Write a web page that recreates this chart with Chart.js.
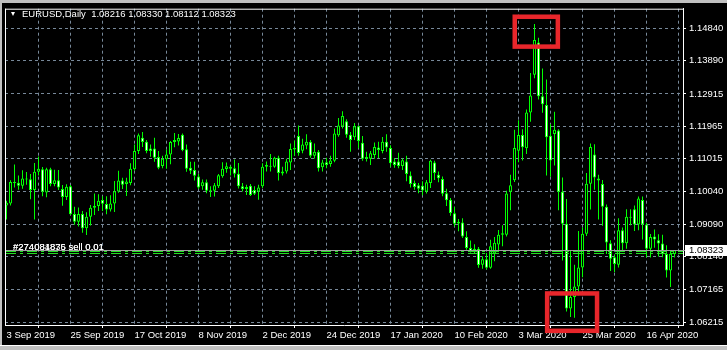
<!DOCTYPE html>
<html>
<head>
<meta charset="utf-8">
<script src="https://cdn.jsdelivr.net/npm/chart.js@4.4.1/dist/chart.umd.min.js"></script>
<style>
  html, body { margin: 0; padding: 0; background: #000; }
  #wrap { position: relative; width: 727px; height: 350px; overflow: hidden; background: #000; }
  canvas { display: block; }
  #tri { position: absolute; left: 11px; top: 12px; width: 0; height: 0;
         border-left: 2.5px solid transparent; border-right: 2.5px solid transparent; border-top: 4px solid #fff; }
  #head { position: absolute; left: 22px; top: 9px; color: #fff; white-space: pre;
          font: 9.5px "Liberation Sans", Arial, sans-serif; line-height: 9.5px; }
</style>
</head>
<body>
<div id="wrap">
  <canvas id="myChart" width="727" height="350"></canvas>
  <div id="tri"></div>
  <div id="head">EURUSD,Daily  1.08216 1.08330 1.08112 1.08323</div>
</div>
<script>
var FONT = '"Liberation Sans", Arial, sans-serif';

// barras diarias EURUSD (fechas de cada vela)
var dates = [
  '2019-09-03','2019-09-04','2019-09-05','2019-09-06','2019-09-09','2019-09-10','2019-09-11','2019-09-12','2019-09-13','2019-09-16',
  '2019-09-17','2019-09-18','2019-09-19','2019-09-20','2019-09-23','2019-09-24','2019-09-25','2019-09-26','2019-09-27','2019-09-30',
  '2019-10-01','2019-10-02','2019-10-03','2019-10-04','2019-10-07','2019-10-08','2019-10-09','2019-10-10','2019-10-11','2019-10-14',
  '2019-10-15','2019-10-16','2019-10-17','2019-10-18','2019-10-21','2019-10-22','2019-10-23','2019-10-24','2019-10-25','2019-10-28',
  '2019-10-29','2019-10-30','2019-10-31','2019-11-01','2019-11-04','2019-11-05','2019-11-06','2019-11-07','2019-11-08','2019-11-11',
  '2019-11-12','2019-11-13','2019-11-14','2019-11-15','2019-11-18','2019-11-19','2019-11-20','2019-11-21','2019-11-22','2019-11-25',
  '2019-11-26','2019-11-27','2019-11-28','2019-11-29','2019-12-02','2019-12-03','2019-12-04','2019-12-05','2019-12-06','2019-12-09',
  '2019-12-10','2019-12-11','2019-12-12','2019-12-13','2019-12-16','2019-12-17','2019-12-18','2019-12-19','2019-12-20','2019-12-23',
  '2019-12-24','2019-12-26','2019-12-27','2019-12-30','2019-12-31','2020-01-02','2020-01-03','2020-01-06','2020-01-07','2020-01-08',
  '2020-01-09','2020-01-10','2020-01-13','2020-01-14','2020-01-15','2020-01-16','2020-01-17','2020-01-20','2020-01-21','2020-01-22',
  '2020-01-23','2020-01-24','2020-01-27','2020-01-28','2020-01-29','2020-01-30','2020-01-31','2020-02-03','2020-02-04','2020-02-05',
  '2020-02-06','2020-02-07','2020-02-10','2020-02-11','2020-02-12','2020-02-13','2020-02-14','2020-02-17','2020-02-18','2020-02-19',
  '2020-02-20','2020-02-21','2020-02-24','2020-02-25','2020-02-26','2020-02-27','2020-02-28','2020-03-02','2020-03-03','2020-03-04',
  '2020-03-05','2020-03-06','2020-03-09','2020-03-10','2020-03-11','2020-03-12','2020-03-13','2020-03-16','2020-03-17','2020-03-18',
  '2020-03-19','2020-03-20','2020-03-23','2020-03-24','2020-03-25','2020-03-26','2020-03-27','2020-03-30','2020-03-31','2020-04-01',
  '2020-04-02','2020-04-03','2020-04-06','2020-04-07','2020-04-08','2020-04-09','2020-04-10','2020-04-13','2020-04-14','2020-04-15',
  '2020-04-16','2020-04-17','2020-04-20','2020-04-21','2020-04-22','2020-04-23','2020-04-24','2020-04-27'
];

var open = [
  1.0964,1.0970,1.1033,1.1031,1.1022,1.1043,1.1041,1.1009,1.1063,1.1070,
  1.1002,1.1070,1.1027,1.1038,1.1012,1.0989,1.1020,1.0939,1.0916,1.0939,
  1.0897,1.0931,1.0957,1.0962,1.0980,1.0968,1.0952,1.0970,1.1005,1.1037,
  1.1027,1.1030,1.1070,1.1124,1.1163,1.1151,1.1131,1.1131,1.1106,1.1080,
  1.1100,1.1114,1.1150,1.1152,1.1172,1.1129,1.1075,1.1068,1.1049,1.1020,
  1.1032,1.1006,1.1007,1.1020,1.1050,1.1071,1.1078,1.1073,1.1057,1.1020,
  1.1012,1.1022,1.1009,1.1005,1.1020,1.1078,1.1078,1.1078,1.1104,1.1058,
  1.1064,1.1090,1.1128,1.1168,1.1125,1.1140,1.1151,1.1110,1.1122,1.1076,
  1.1091,1.1086,1.1095,1.1170,1.1196,1.1211,1.1172,1.1164,1.1197,1.1148,
  1.1101,1.1101,1.1112,1.1134,1.1124,1.1151,1.1133,1.1093,1.1093,1.1080,
  1.1093,1.1052,1.1030,1.1023,1.1022,1.1005,1.1030,1.1090,1.1054,1.1042,
  1.1000,1.0981,1.0941,1.0911,1.0914,1.0871,1.0839,1.0831,1.0837,1.0790,
  1.0806,1.0781,1.0823,1.0849,1.0878,1.0878,1.1004,1.1038,1.1125,1.1171,
  1.1132,1.1237,1.1348,1.1443,1.1285,1.1259,1.1169,1.1174,1.1184,1.1004,
  1.0910,1.0661,1.0695,1.0726,1.0782,1.0881,1.1028,1.1114,1.1043,1.1027,
  1.0960,1.0853,1.0812,1.0790,1.0891,1.0853,1.0931,1.0953,1.0908,1.0980,
  1.0908,1.0837,1.0873,1.0862,1.0852,1.0821,1.0773,1.08216
];
var high = [
  1.0978,1.1038,1.1084,1.1052,1.1067,1.1062,1.1056,1.1089,1.1108,1.1077,
  1.1075,1.1075,1.1069,1.1068,1.1024,1.1026,1.1024,1.0960,1.0958,1.0948,
  1.0944,1.0965,1.0999,1.0997,1.0991,1.0991,1.0994,1.1036,1.1066,1.1045,
  1.1045,1.1088,1.1143,1.1175,1.1180,1.1156,1.1143,1.1163,1.1124,1.1110,
  1.1128,1.1153,1.1177,1.1174,1.1175,1.1143,1.1092,1.1092,1.1056,1.1040,
  1.1040,1.1020,1.1030,1.1056,1.1091,1.1090,1.1081,1.1099,1.1089,1.1030,
  1.1025,1.1027,1.1020,1.1025,1.1088,1.1093,1.1115,1.1107,1.1110,1.1078,
  1.1101,1.1146,1.1155,1.1199,1.1160,1.1173,1.1156,1.1146,1.1127,1.1098,
  1.1104,1.1110,1.1190,1.1221,1.1241,1.1217,1.1180,1.1206,1.1199,1.1168,
  1.1122,1.1124,1.1149,1.1151,1.1165,1.1173,1.1141,1.1103,1.1119,1.1102,
  1.1110,1.1064,1.1037,1.1030,1.1035,1.1039,1.1098,1.1095,1.1064,1.1049,
  1.1013,1.0986,1.0960,1.0924,1.0926,1.0888,1.0861,1.0850,1.0842,1.0815,
  1.0824,1.0863,1.0871,1.0892,1.0906,1.1007,1.1054,1.1186,1.1214,1.1188,
  1.1246,1.1353,1.1497,1.1457,1.1366,1.1334,1.1203,1.1239,1.1188,1.1046,
  1.0983,1.0831,1.0790,1.0889,1.0899,1.1059,1.1146,1.1144,1.1054,1.1039,
  1.0967,1.0862,1.0820,1.0926,1.0899,1.0953,1.0953,1.0964,1.0990,1.0990,
  1.0913,1.0880,1.0893,1.0879,1.0878,1.0847,1.0831,1.08330
];
var low = [
  1.0923,1.0964,1.1017,1.1010,1.1013,1.1025,1.0982,1.0923,1.1052,1.0991,
  1.0988,1.1020,1.1020,1.1009,1.0963,1.0980,1.0936,1.0907,1.0902,1.0884,
  1.0877,1.0905,1.0936,1.0948,1.0948,1.0938,1.0946,1.0945,1.1001,1.1012,
  1.0992,1.1023,1.1066,1.1115,1.1136,1.1117,1.1107,1.1092,1.1070,1.1073,
  1.1072,1.1085,1.1135,1.1140,1.1123,1.1063,1.1056,1.1037,1.1012,1.1010,
  1.1000,1.0989,1.0990,1.1015,1.1045,1.1060,1.1052,1.1046,1.1014,1.1005,
  1.0995,1.0992,1.0995,1.0981,1.1015,1.1064,1.1064,1.1075,1.1037,1.1052,
  1.1058,1.1068,1.1110,1.1110,1.1117,1.1129,1.1104,1.1102,1.1064,1.1064,
  1.1073,1.1078,1.1091,1.1166,1.1190,1.1163,1.1122,1.1156,1.1132,1.1095,
  1.1093,1.1083,1.1101,1.1103,1.1117,1.1122,1.1078,1.1075,1.1073,1.1068,
  1.1035,1.1017,1.1010,1.1000,1.0994,1.0999,1.1015,1.1039,1.1032,1.0991,
  1.0962,1.0934,1.0902,1.0888,1.0868,1.0834,1.0826,1.0822,1.0781,1.0778,
  1.0776,1.0778,1.0800,1.0832,1.0844,1.0873,1.0950,1.1033,1.1091,1.1096,
  1.1115,1.1210,1.1338,1.1275,1.1236,1.1052,1.1048,1.1081,1.0950,1.0802,
  1.0652,1.0636,1.0634,1.0700,1.0753,1.0874,1.0952,1.1010,1.0923,1.0904,
  1.0821,1.0771,1.0768,1.0782,1.0831,1.0837,1.0906,1.0889,1.0891,1.0864,
  1.0812,1.0811,1.0840,1.0814,1.0812,1.0752,1.0724,1.08112
];
var close = [
  1.0972,1.1033,1.1030,1.1022,1.1043,1.1040,1.1009,1.1063,1.1072,1.1004,
  1.1070,1.1027,1.1038,1.1017,1.0989,1.1019,1.0938,1.0916,1.0939,1.0897,
  1.0931,1.0957,1.0962,1.0978,1.0969,1.0952,1.0970,1.1006,1.1037,1.1025,
  1.1034,1.1072,1.1124,1.1170,1.1150,1.1124,1.1124,1.1104,1.1075,1.1101,
  1.1114,1.1150,1.1156,1.1162,1.1126,1.1072,1.1066,1.1051,1.1017,1.1032,
  1.1007,1.1008,1.1023,1.1053,1.1072,1.1079,1.1072,1.1057,1.1020,1.1012,
  1.1018,1.0995,1.0998,1.1017,1.1078,1.1083,1.1080,1.1104,1.1059,1.1064,
  1.1093,1.1130,1.1133,1.1118,1.1143,1.1151,1.1110,1.1122,1.1073,1.1090,
  1.1083,1.1096,1.1175,1.1199,1.1227,1.1172,1.1156,1.1197,1.1153,1.1101,
  1.1106,1.1117,1.1136,1.1127,1.1151,1.1134,1.1088,1.1083,1.1080,1.1097,
  1.1056,1.1027,1.1018,1.1013,1.1008,1.1032,1.1095,1.1059,1.1044,1.0998,
  1.0979,1.0942,1.0910,1.0916,1.0873,1.0839,1.0830,1.0837,1.0789,1.0806,
  1.0781,1.0844,1.0854,1.0878,1.0882,1.0999,1.1023,1.1133,1.1171,1.1135,
  1.1237,1.1287,1.1450,1.1285,1.1261,1.1164,1.1096,1.1186,1.1004,1.0910,
  1.0661,1.0695,1.0726,1.0782,1.0881,1.1028,1.1136,1.1046,1.1037,1.0960,
  1.0855,1.0807,1.0792,1.0891,1.0853,1.0931,1.0928,1.0908,1.0984,1.0908,
  1.0837,1.0871,1.0864,1.0852,1.0822,1.0773,1.0822,1.08323
];

// etiquetas de los ejes
var tickBars = [0, 16, 32, 48, 64, 80, 96, 112, 128, 144, 160];
var tickLabels = ['3 Sep 2019', '25 Sep 2019', '17 Oct 2019', '8 Nov 2019', '2 Dec 2019', '24 Dec 2019',
                  '17 Jan 2020', '10 Feb 2020', '3 Mar 2020', '25 Mar 2020', '16 Apr 2020'];
var priceTicks = [1.06215, 1.07165, 1.08140, 1.09090, 1.10040, 1.11015, 1.11965, 1.12915, 1.13890, 1.14840];

// linea bid y ordenes abiertas
var bidPrice = 1.08323;
var orderPrices = [1.0829, 1.0823];
var orderLabels = ['#274081835 sell 0.01', '#274084876 sell 0.01'];

// recuadros rojos: maximo y minimo (barra inicial, barra final, precio alto, precio bajo)
var boxFromBar = [126.5, 134.6];
var boxToBar = [138.4, 148.2];
var boxTopPrice = [1.1525, 1.0712];
var boxBottomPrice = [1.1424, 1.0589];

var wicks = dates.map(function(d, i) { return { x: i, y: [low[i], high[i]] }; });
var bodies = dates.map(function(d, i) { return { x: i, y: [open[i], close[i]] }; });
var bodyFill = dates.map(function(d, i) { return close[i] >= open[i] ? '#000000' : '#ffffff'; });

// grilla punteada, marcos y lineas de precio
var mt4 = {
    id: 'mt4',
    beforeDraw: function(chart) {
        var c = chart.ctx;
        c.save();
        c.fillStyle = '#000';
        c.fillRect(0, 0, chart.width, chart.height);
        c.restore();
    },
    beforeDatasetsDraw: function(chart) {
        var c = chart.ctx, a = chart.chartArea, x = chart.scales.x, y = chart.scales.y;
        c.save();
        c.strokeStyle = '#778899';
        c.lineWidth = 1;
        c.setLineDash([3, 3]);
        c.beginPath();
        priceTicks.forEach(function(v) {
            var py = Math.floor(y.getPixelForValue(v)) + 0.5;
            c.moveTo(a.left, py); c.lineTo(a.right, py);
        });
        for (var g = 8; g <= x.max; g += 8) {
            var px = Math.floor(x.getPixelForValue(g)) + 0.5;
            c.moveTo(px, a.top); c.lineTo(px, a.bottom);
        }
        c.stroke();
        c.restore();
    },
    afterDatasetsDraw: function(chart) {
        var c = chart.ctx, a = chart.chartArea, y = chart.scales.y;
        c.save();
        // marco superior e izquierdo
        c.strokeStyle = '#ffffff';
        c.lineWidth = 1;
        c.beginPath();
        c.moveTo(a.left, a.top + 0.5); c.lineTo(a.right, a.top + 0.5);
        c.moveTo(a.left + 0.5, a.top); c.lineTo(a.left + 0.5, a.bottom);
        c.stroke();

        // linea bid
        var by = Math.floor(y.getPixelForValue(bidPrice)) + 0.5;
        c.strokeStyle = '#a0a0a0';
        c.beginPath(); c.moveTo(a.left + 1, by); c.lineTo(a.right + 2, by); c.stroke();

        // ordenes
        c.strokeStyle = '#22e022';
        c.setLineDash([10, 4, 3, 4]);
        c.beginPath();
        orderPrices.forEach(function(p) {
            var oy = Math.floor(y.getPixelForValue(p)) + 0.5;
            c.moveTo(a.left + 1, oy); c.lineTo(a.right, oy);
        });
        c.stroke();
        c.setLineDash([]);

        c.font = '9.5px ' + FONT;
        c.fillStyle = '#ffffff';
        c.textBaseline = 'alphabetic';
        var ty = Math.floor(y.getPixelForValue(orderPrices[0])) - 1;
        orderLabels.forEach(function(t) { c.fillText(t, a.left + 8, ty); });

        // etiqueta del precio actual
        c.fillStyle = '#ffffff';
        c.fillRect(a.right + 2, by - 5.5, chart.width - a.right - 2, 11);
        c.fillStyle = '#000000';
        c.textBaseline = 'middle';
        c.fillText(bidPrice.toFixed(5), a.right + 6, by);
        c.restore();
    },
    afterDraw: function(chart) {
        var c = chart.ctx, x = chart.scales.x, y = chart.scales.y;
        c.save();
        c.fillStyle = '#c0c0c0';
        c.fillRect(0, 0, chart.width, 3);
        c.fillRect(0, 0, 2, chart.height);
        c.fillRect(0, 346, chart.width, 4);
        c.fillStyle = '#ffffff';
        c.fillRect(0, 345, chart.width, 1);

        // recuadros rojos sobre el grafico
        c.strokeStyle = '#e8262b';
        c.lineWidth = 4.5;
        boxFromBar.forEach(function(b, k) {
            var x1 = x.getPixelForValue(b), x2 = x.getPixelForValue(boxToBar[k]);
            var y1 = y.getPixelForValue(boxTopPrice[k]), y2 = y.getPixelForValue(boxBottomPrice[k]);
            var h = c.lineWidth / 2;
            c.strokeRect(x1 + h, y1 + h, x2 - x1 - 2 * h, y2 - y1 - 2 * h);
        });
        c.restore();
    }
};

var chart;
var ctx = document.getElementById('myChart').getContext('2d');
chart = new Chart(ctx, {
    type: 'bar',
    data: {
        datasets: [{
            data: wicks,
            backgroundColor: '#00ff00',
            borderWidth: 0,
            barThickness: 1,
            grouped: false,
            inflateAmount: 0,
            order: 2
        }, {
            data: bodies,
            backgroundColor: bodyFill,
            borderColor: '#00ff00',
            borderWidth: 1,
            borderSkipped: false,
            barThickness: 3,
            minBarLength: 1,
            grouped: false,
            inflateAmount: 0,
            order: 1
        }]
    },
    options: {
        responsive: false,
        maintainAspectRatio: false,
        devicePixelRatio: 1,
        animation: false,
        events: [],
        layout: { padding: { left: 5, top: 5, right: 0, bottom: 0 } },
        plugins: { legend: { display: false }, tooltip: { enabled: false } },
        scales: {
            x: {
                type: 'linear',
                min: -0.375,
                max: 169.125,
                offset: false,
                afterBuildTicks: function(s) { s.ticks = tickBars.map(function(v) { return { value: v }; }); },
                afterFit: function(s) { s.height = 25; },
                grid: { display: true, drawOnChartArea: false, drawTicks: true, tickLength: 3, tickColor: '#ffffff', color: '#ffffff' },
                border: { display: true, color: '#ffffff', width: 1 },
                ticks: {
                    color: '#ffffff',
                    font: { family: FONT, size: 9.5 },
                    padding: 2,
                    align: 'start',
                    maxRotation: 0,
                    minRotation: 0,
                    autoSkip: false,
                    callback: function(v) { var k = tickBars.indexOf(v); return k >= 0 ? tickLabels[k] : ''; }
                }
            },
            y: {
                type: 'linear',
                position: 'right',
                min: 1.06127,
                max: 1.15420,
                afterBuildTicks: function(s) { s.ticks = priceTicks.map(function(v) { return { value: v }; }); },
                afterFit: function(s) { s.width = 44; },
                grid: { display: true, drawOnChartArea: false, drawTicks: true, tickLength: 3, tickColor: '#ffffff', color: '#ffffff' },
                border: { display: true, color: '#ffffff', width: 1 },
                ticks: {
                    color: '#ffffff',
                    font: { family: FONT, size: 9.5 },
                    padding: 3,
                    autoSkip: false,
                    callback: function(v) { return v.toFixed(5); }
                }
            }
        }
    },
    plugins: [mt4]
});
</script>
</body>
</html>
